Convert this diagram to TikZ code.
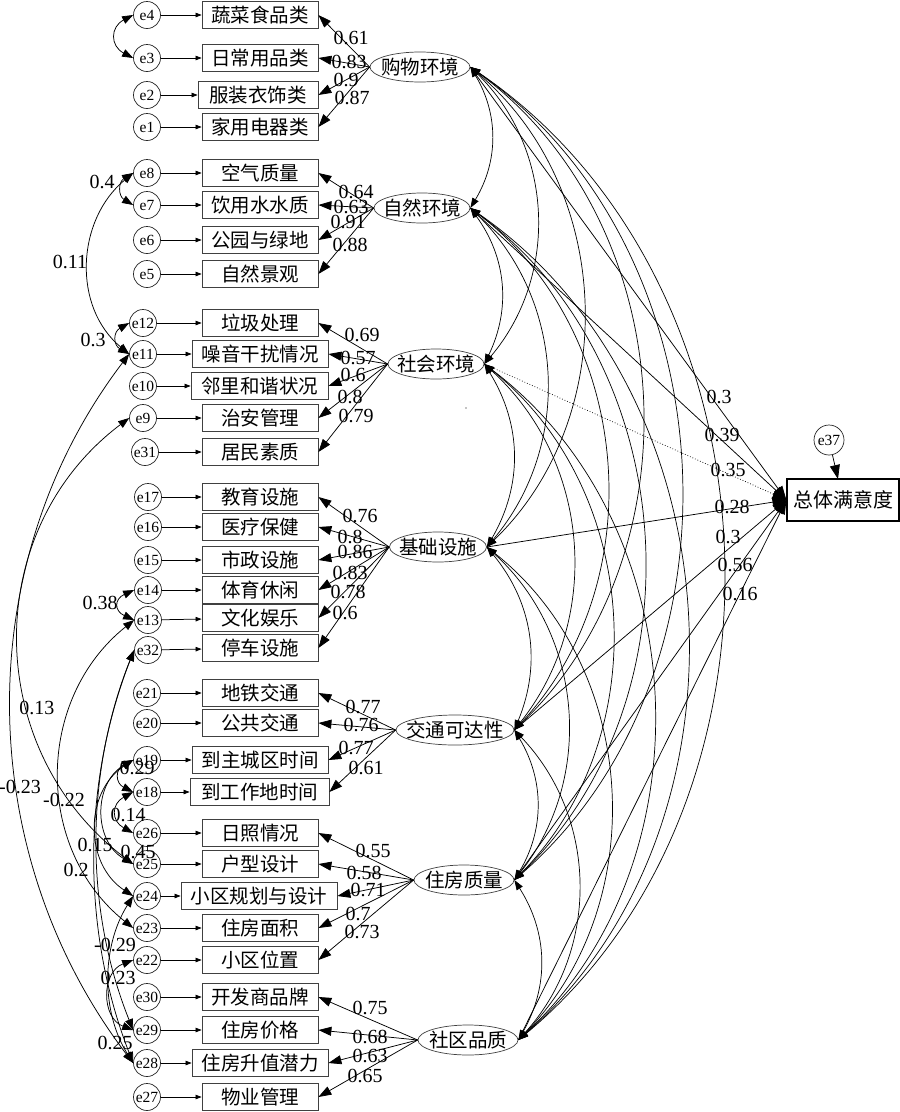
\documentclass[tikz,border=0pt]{standalone}
\usepackage{fontspec}
\setmainfont{Liberation Serif}
\newfontfamily\cjkfont{Noto Sans CJK SC}
\usetikzlibrary{shapes.geometric,arrows.meta}
\begin{document}
\begin{tikzpicture}[x=1pt,y=-1pt,
 obsbox/.style={draw=black!75,line width=0.8pt,rectangle,minimum width=116pt,minimum height=27pt,inner sep=0pt,font=\cjkfont\fontsize{19.5}{19.5}\selectfont},
 latent/.style={draw=black!75,line width=0.7pt,ellipse,minimum height=30pt,inner sep=0pt,font=\cjkfont\fontsize{19.5}{19.5}\selectfont},
 errc/.style={draw=black!85,line width=0.7pt,circle,minimum size=27pt,inner sep=0pt,font=\fontsize{15.5}{15.5}\selectfont},
 errarr/.style={-{Triangle[length=6pt,width=4.5pt]},line width=0.75pt},
 loadarr/.style={-{Triangle[length=13pt,width=9pt]},line width=0.75pt},
 covarr/.style={{Triangle[length=11pt,width=8pt]}-{Triangle[length=11pt,width=8pt]},line width=0.75pt},
 latcov/.style={{Triangle[length=10pt,width=7pt]}-{Triangle[length=10pt,width=7pt]},line width=0.7pt},
 regarr/.style={-{Triangle[length=14pt,width=10pt]},line width=0.75pt},
 numlab/.style={inner sep=0pt,font=\fontsize{20}{20}\selectfont},
]
\useasboundingbox (0,0) rectangle (900,1112);

% ---------- error circles ----------
\foreach \n/\x/\y in {4/147/15,3/147/58,2/147/95,1/147/127,
  8/147/173,7/147/205,6/147/240,5/147/274,
  12/143/323,11/143/354,10/143/386,9/143/418,31/145/452,
  17/148/497,16/148/527,15/148/560,14/148/590,13/148/620,32/148/650,
  21/147/693,20/147/723,19/147/760,18/147/792,
  26/147/833,25/147/864,24/147/896,23/147/928,22/147/960,
  30/147/997,29/147/1030,28/147/1063,27/147/1097}
  \node[errc] (e\n) at (\x,\y) {e\n};

% ---------- observed boxes ----------
\node[obsbox] (b4) at (260,15) {蔬菜食品类};
\node[obsbox] (b3) at (260,58) {日常用品类};
\node[obsbox,minimum width=120pt] (b2) at (258,95) {服装衣饰类};
\node[obsbox] (b1) at (260,127) {家用电器类};
\node[obsbox] (b8) at (260,173) {空气质量};
\node[obsbox] (b7) at (260,205) {饮用水水质};
\node[obsbox] (b6) at (260,240) {公园与绿地};
\node[obsbox] (b5) at (260,274) {自然景观};
\node[obsbox] (b12) at (260,323) {垃圾处理};
\node[obsbox,minimum width=136pt] (b11) at (260,354) {噪音干扰情况};
\node[obsbox,minimum width=137pt] (b10) at (259.5,386) {邻里和谐状况};
\node[obsbox] (b9) at (260,418) {治安管理};
\node[obsbox] (b31) at (260,452) {居民素质};
\node[obsbox] (b17) at (260,497) {教育设施};
\node[obsbox] (b16) at (260,527) {医疗保健};
\node[obsbox] (b15) at (260,560) {市政设施};
\node[obsbox] (b14) at (260,590) {体育休闲};
\node[obsbox] (b13) at (260,618) {文化娱乐};
\node[obsbox] (b32) at (260,648) {停车设施};
\node[obsbox] (b21) at (260,693) {地铁交通};
\node[obsbox] (b20) at (260,723) {公共交通};
\node[obsbox,minimum width=136pt] (b19) at (260,760) {到主城区时间};
\node[obsbox,minimum width=139pt] (b18) at (259.5,792) {到工作地时间};
\node[obsbox] (b26) at (260,833) {日照情况};
\node[obsbox] (b25) at (260,864) {户型设计};
\node[obsbox,minimum width=156pt] (b24) at (259,896) {小区规划与设计};
\node[obsbox] (b23) at (260,928) {住房面积};
\node[obsbox] (b22) at (260,960) {小区位置};
\node[obsbox] (b30) at (260,997) {开发商品牌};
\node[obsbox] (b29) at (260,1030) {住房价格};
\node[obsbox,minimum width=136pt] (b28) at (260,1063) {住房升值潜力};
\node[obsbox] (b27) at (260,1097) {物业管理};

% ---------- latent variables ----------
\node[latent,minimum width=100pt] (L1) at (420,67) {\makebox[0pt]{购物环境}};
\node[latent,minimum width=96pt] (L2) at (422,208) {\makebox[0pt]{自然环境}};
\node[latent,minimum width=96pt] (L3) at (436,364) {\makebox[0pt]{社会环境}};
\node[latent,minimum width=97pt] (L4) at (438,547) {\makebox[0pt]{基础设施}};
\node[latent,minimum width=118pt] (L5) at (455,730) {\makebox[0pt]{交通可达性}};
\node[latent,minimum width=100pt] (L6) at (464,880) {\makebox[0pt]{住房质量}};
\node[latent,minimum width=100pt] (L7) at (468,1040) {\makebox[0pt]{社区品质}};

% ---------- outcome ----------
\node[draw=black,line width=1.2pt,rectangle,minimum width=112pt,minimum height=42pt,inner sep=0pt,font=\cjkfont\fontsize{20}{20}\selectfont] (tot) at (843,500) {总体满意度};
\node[errc,minimum size=30pt] (e37) at (829,440) {e37};
\coordinate (t37) at (838,479);
\draw[regarr] (e37) -- (t37);

% ---------- error arrows ----------
\foreach \i in {4,3,2,1,8,7,6,5,12,11,10,9,31,17,16,15,14,13,32,21,20,19,18,26,25,24,23,22,30,29,28,27}
  \draw[errarr] (e\i) -- (b\i);

% ---------- loadings ----------
\foreach \i in {4,3,2,1} \draw[loadarr] (L1.west) -- (b\i.east);
\foreach \i in {8,7,6,5} \draw[loadarr] (L2.west) -- (b\i.east);
\foreach \i in {12,11,10,9,31} \draw[loadarr] (L3.west) -- (b\i.east);
\foreach \i in {17,16,15,14,13,32} \draw[loadarr] (L4.west) -- (b\i.east);
\foreach \i in {21,20,19,18} \draw[loadarr] (L5.west) -- (b\i.east);
\foreach \i in {26,25,24,23,22} \draw[loadarr] (L6.west) -- (b\i.east);
\foreach \i in {30,29,28,27} \draw[loadarr] (L7.west) -- (b\i.east);

% ---------- structural paths ----------
\draw[regarr] (L1.east) -- (tot.west);
\draw[regarr] (L2.east) -- (tot.west);
\draw[regarr,dotted] (L3.east) -- (tot.west);
\draw[regarr] (L4.east) -- (tot.west);
\draw[regarr] (L5.east) -- (tot.west);
\draw[regarr] (L6.east) -- (tot.west);
\draw[regarr] (L7.east) -- (tot.west);

% ---------- latent covariances ----------
\foreach \a/\b/\c in {1/2/31,2/3/31,3/4/31,4/5/31,5/6/31,6/7/31,
  1/3/43,2/4/43,3/5/43,4/6/43,5/7/43,
  1/4/48,2/5/48,3/6/48,4/7/48,
  1/5/50,2/6/50,3/7/50,
  1/6/52,2/7/52,1/7/53}
  \draw[latcov] (L\a.east) to[bend left=\c] (L\b.east);

% ---------- error covariances ----------
\draw[covarr] (e4.west) .. controls +(-23,12) and +(-23,-12) .. (e3.west);
\draw[covarr] (e8.west) .. controls +(-15,9) and +(-15,-9) .. (e7.west);
\draw[covarr] (e8.west) .. controls +(-57,47) and +(-57,-47) .. (e11.west);
\draw[covarr] (e12.west) .. controls +(-16,9) and +(-16,-9) .. (e11.west);
\draw[covarr] (e11.west) .. controls +(-160,210) and +(-160,-210) .. (e28.west);
\draw[covarr] (e9.west) .. controls +(-150,113) and +(-150,-113) .. (e25.west);
\draw[covarr] (e14.west) .. controls +(-20,9) and +(-20,-9) .. (e13.west);
\draw[covarr] (e13.west) .. controls +(-99,79) and +(-99,-79) .. (e23.west);
\draw[covarr] (e32.west) .. controls +(-49,122) and +(-49,-122) .. (e29.west);
\draw[covarr] (e32.west) .. controls +(-52,133) and +(-52,-133) .. (e28.west);
\draw[covarr] (e19.west) .. controls +(-18,9) and +(-18,-9) .. (e18.west);
\draw[covarr] (e18.west) .. controls +(-22,12) and +(-22,-12) .. (e26.west);
\draw[covarr] (e19.west) .. controls +(-40,23) and +(-40,-23) .. (e25.west);
\draw[covarr] (e19.west) .. controls +(-49,32) and +(-49,-32) .. (e24.west);
\draw[covarr] (e24.west) .. controls +(-32,51) and +(-32,-51) .. (e28.west);
\draw[covarr] (e22.west) .. controls +(-32,12) and +(-32,-12) .. (e29.west);

% ---------- coefficient labels ----------
\foreach \t/\x/\y [count=\k] in {
  0.61/351/38,0.83/349/62,0.9/346/80,0.87/352/98,
  0.64/356/192,0.63/351/207,0.91/348/222,0.88/350/245,
  0.69/362/335,0.57/358/358,0.6/353/375,0.8/350/397,0.79/356/416,
  0.76/360/516,0.8/350/537,0.86/355/552,0.83/350/573,0.78/348/592,0.6/345/613,
  0.77/363/707,0.76/361/725,0.77/356/748,0.61/366/768,
  0.55/373/851,0.58/364/873,0.71/368/890,0.7/358/914,0.73/362/932,
  0.75/370/1008,0.68/370/1037,0.63/370/1056,0.65/365/1076,
  0.3/719/397,0.39/722/435,0.35/728/470,0.28/732/507,0.3/728/537,0.56/735/565,0.16/740/594,
  0.4/102/182,0.11/70/262,0.3/93/340,0.38/100/603,0.13/37/708,-0.23/20/787,-0.22/64/800,
  0.29/137/768,0.14/128/815,0.15/95/845,0.45/138/852,0.2/76/870,
  -0.29/115/945,0.23/118/978,0.25/115/1043}
  \node[numlab] (lab\k) at (\x,\y) {\t};

% stray mark
\fill (466,408) circle (0.7);
\end{tikzpicture}
\end{document}
